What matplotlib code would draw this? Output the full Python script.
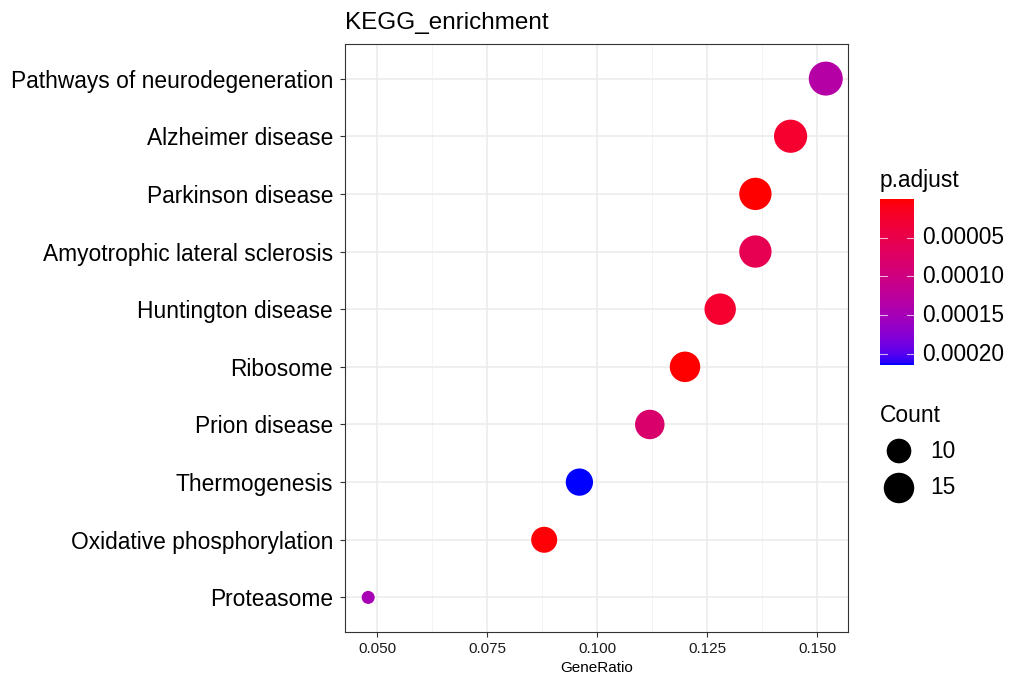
import numpy as np
import matplotlib
matplotlib.use("Agg")
import matplotlib.pyplot as plt
from matplotlib.colors import ListedColormap, Normalize

plt.rcParams['font.family'] = ['Liberation Sans', 'DejaVu Sans']

# ---------------- data ----------------
categories = ["Pathways of neurodegeneration", "Alzheimer disease", "Parkinson disease",
              "Amyotrophic lateral sclerosis", "Huntington disease", "Ribosome",
              "Prion disease", "Thermogenesis", "Oxidative phosphorylation", "Proteasome"]
gene_ratio = [0.152, 0.144, 0.136, 0.136, 0.128, 0.120, 0.112, 0.096, 0.088, 0.048]
counts = [19, 18, 17, 17, 16, 15, 14, 12, 11, 6]
p_adjust = [1.33e-4, 2.6e-5, 3e-7, 5.6e-5, 2.6e-5, 2e-7, 8.1e-5, 2.14e-4, 2e-6, 1.48e-4]
x_ticks = [0.050, 0.075, 0.100, 0.125, 0.150]
x_tick_labels = ["0.050", "0.075", "0.100", "0.125", "0.150"]
cbar_ticks = [0.00005, 0.00010, 0.00015, 0.00020]
cbar_tick_labels = ["0.00005", "0.00010", "0.00015", "0.00020"]
size_breaks = [10, 15]

# ---------------- colour scale (Lab interpolation red -> blue, like ggplot) ----------------
def srgb_to_lab(rgb):
    rgb = np.asarray(rgb, float)
    lin = np.where(rgb <= 0.04045, rgb / 12.92, ((rgb + 0.055) / 1.055) ** 2.4)
    M = np.array([[0.4124, 0.3576, 0.1805], [0.2126, 0.7152, 0.0722], [0.0193, 0.1192, 0.9505]])
    xyz = M @ lin
    wp = np.array([0.95047, 1.0, 1.08883])
    t = xyz / wp
    f = np.where(t > 0.008856, np.cbrt(t), 7.787 * t + 16 / 116)
    return np.array([116 * f[1] - 16, 500 * (f[0] - f[1]), 200 * (f[1] - f[2])])

def lab_to_srgb(lab):
    L, a, b = lab
    fy = (L + 16) / 116
    fx = fy + a / 500
    fz = fy - b / 200
    def finv(f):
        return f ** 3 if f ** 3 > 0.008856 else (f - 16 / 116) / 7.787
    wp = np.array([0.95047, 1.0, 1.08883])
    xyz = np.array([finv(fx), finv(fy), finv(fz)]) * wp
    Minv = np.array([[3.2406, -1.5372, -0.4986], [-0.9689, 1.8758, 0.0415], [0.0557, -0.2040, 1.0570]])
    lin = np.clip(Minv @ xyz, 0, 1)
    return np.where(lin <= 0.0031308, 12.92 * lin, 1.055 * lin ** (1 / 2.4) - 0.055).clip(0, 1)

lab_r = srgb_to_lab([1, 0, 0])
lab_b = srgb_to_lab([0, 0, 1])
cols = [lab_to_srgb(lab_r + (lab_b - lab_r) * t) for t in np.linspace(0, 1, 256)]
cmap = ListedColormap(cols)
vmin, vmax = min(p_adjust), max(p_adjust)
norm = Normalize(vmin=vmin, vmax=vmax)

# ---------------- size scale ----------------
cmin, cmax = min(counts), max(counts)
dmin_px, dmax_px = 13.0, 34.0
def size_of(c):
    d_px = dmin_px + (dmax_px - dmin_px) * np.sqrt((c - cmin) / (cmax - cmin))
    return (d_px * 0.72) ** 2

W, H = 1020, 676
fig = plt.figure(figsize=(W / 100, H / 100), dpi=100)
ax = fig.add_axes([345 / W, 1 - 632 / H, (848 - 345) / W, (632 - 44) / H])

n = len(categories)
ypos = np.arange(n)[::-1] + 1
ax.scatter(gene_ratio, ypos, s=[size_of(c) for c in counts],
           c=[cmap(norm(p)) for p in p_adjust], edgecolors='none', zorder=3)

ax.set_ylim(0.4, n + 0.6)
ax.set_xlim(0.04273, 0.15705)
ax.set_yticks(ypos)
ax.set_yticklabels(categories, fontsize=16.4, color='black')
for lbl in ax.get_yticklabels():
    lbl.set_va('center_baseline')
ax.set_xticks(x_ticks)
ax.set_xticklabels(x_tick_labels, fontsize=11, color='#1a1a1a')
ax.set_xticks([0.0625, 0.0875, 0.1125, 0.1375], minor=True)
ax.grid(True, which='major', color='#ebebeb', lw=1.1, zorder=0)
ax.grid(True, which='minor', axis='x', color='#f2f2f2', lw=0.6, zorder=0)
ax.tick_params(axis='both', which='major', length=3.5, width=0.8, color='#333333')
ax.tick_params(axis='y', pad=5)
ax.tick_params(axis='x', pad=4)
ax.tick_params(axis='x', which='minor', length=0)
for sp in ax.spines.values():
    sp.set_color('#333333')
    sp.set_linewidth(0.8)
ax.set_axisbelow(True)
ax.set_xlabel("GeneRatio", fontsize=11, labelpad=3)
ax.set_title("KEGG_enrichment", loc='left', fontsize=17.5, pad=11)

# ---------------- legends overlay ----------------
ov = fig.add_axes([0, 0, 1, 1], facecolor='none')
ov.set_xlim(0, W)
ov.set_ylim(H, 0)
ov.axis('off')

fs_leg = 16.4
ov.text(880, 180, "p.adjust", fontsize=fs_leg, va='center', ha='left')
cb_top, cb_bot, cb_l, cb_r = 199, 365, 880, 914
cax = fig.add_axes([cb_l / W, 1 - cb_bot / H, (cb_r - cb_l) / W, (cb_bot - cb_top) / H])
grad = np.linspace(vmin, vmax, 300).reshape(-1, 1)
cax.imshow(grad, aspect='auto', cmap=cmap, norm=norm, extent=[0, 1, vmax, vmin], origin='upper')
cax.set_ylim(vmax, vmin)
cax.set_xlim(0, 1)
cax.axis('off')
for t in cbar_ticks:
    cax.plot([0, 0.2], [t, t], color='white', lw=0.8, alpha=0.7)
    cax.plot([0.8, 1], [t, t], color='white', lw=0.8, alpha=0.7)
for t, lab in zip(cbar_ticks, cbar_tick_labels):
    ypx = cb_top + (t - vmin) / (vmax - vmin) * (cb_bot - cb_top)
    ov.text(922, ypx, lab, fontsize=fs_leg, va='center', ha='left')

ov.text(880, 416, "Count", fontsize=fs_leg, va='center', ha='left')
for c, ypx in zip(size_breaks, [451, 488]):
    ov.scatter([899], [ypx], s=size_of(c), color='black', edgecolors='none')
    ov.text(930, ypx, str(c), fontsize=fs_leg, va='center', ha='left')

fig.savefig("out.png", dpi=100, facecolor='white')
